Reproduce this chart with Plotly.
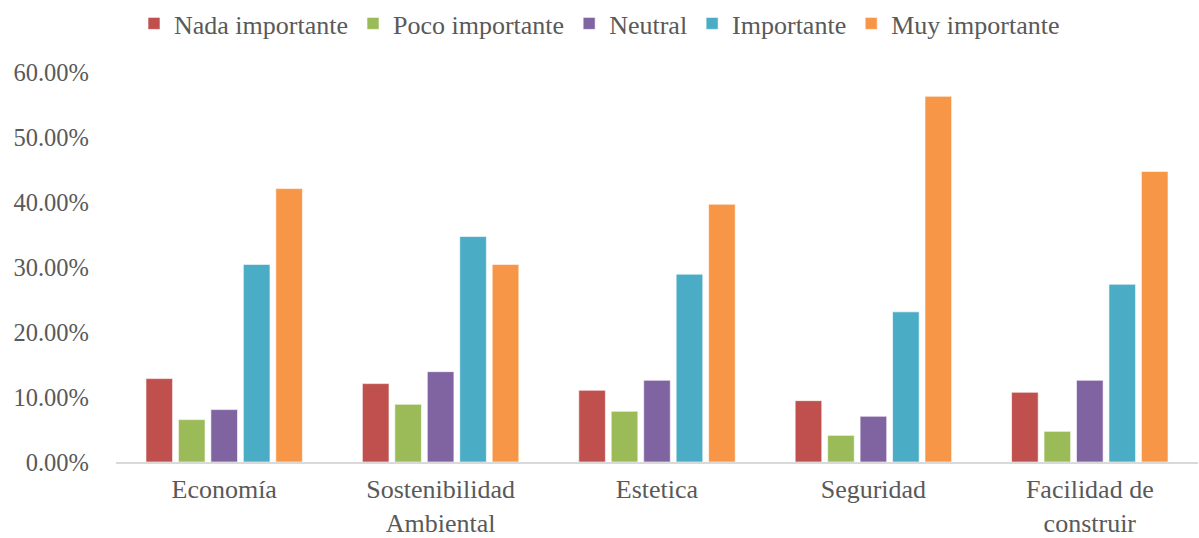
import plotly.graph_objects as go

categories = ["Economía", "Sostenibilidad<br>Ambiental", "Estetica", "Seguridad", "Facilidad de<br>construir"]
series_names = ["Nada importante", "Poco importante", "Neutral", "Importante", "Muy importante"]
nada = [0.1283, 0.1206, 0.1103, 0.0944, 0.1072]
poco = [0.0652, 0.0888, 0.0780, 0.0410, 0.0472]
neutral = [0.0806, 0.1390, 0.1257, 0.0703, 0.1257]
importante = [0.3040, 0.3470, 0.2890, 0.2310, 0.2734]
muy = [0.4206, 0.3040, 0.3965, 0.5626, 0.4470]
colors = ["#C0504D", "#9BBB59", "#8064A2", "#4BACC6", "#F79646"]
yticks = [0, 0.1, 0.2, 0.3, 0.4, 0.5, 0.6]

fig = go.Figure()
for name, vals, col in zip(series_names, [nada, poco, neutral, importante, muy], colors):
    fig.add_trace(go.Bar(
        name=name, x=categories, y=vals,
        marker=dict(color=col, line=dict(color="rgba(255,255,255,0.6)", width=1)),
    ))

font_family = "Liberation Serif, Times New Roman, serif"
fig.update_layout(
    width=1199, height=538,
    margin=dict(l=116, r=1, t=72, b=76),
    paper_bgcolor="white", plot_bgcolor="white",
    barmode="group", bargap=0.25, bargroupgap=0.18,
    font=dict(family=font_family, size=24, color="#595959"),
    legend=dict(orientation="h", x=0.5, xanchor="center", y=1.0, yanchor="top",
                yref="container", xref="container", font=dict(size=26, color="#595959"),
                itemwidth=30, traceorder="normal"),
    xaxis=dict(showline=True, linecolor="#D9D9D9", linewidth=1.5, ticks="",
               tickfont=dict(size=26, color="#595959"), showgrid=False,
               ticklabelstandoff=3),
    yaxis=dict(range=[0, 0.6], tickvals=yticks, tickformat=".2%", showgrid=False,
               showline=False, zeroline=False, ticks="", ticklabelstandoff=26,
               tickfont=dict(size=24.5, color="#595959")),
    showlegend=True,
)
fig.write_html("out.html")
